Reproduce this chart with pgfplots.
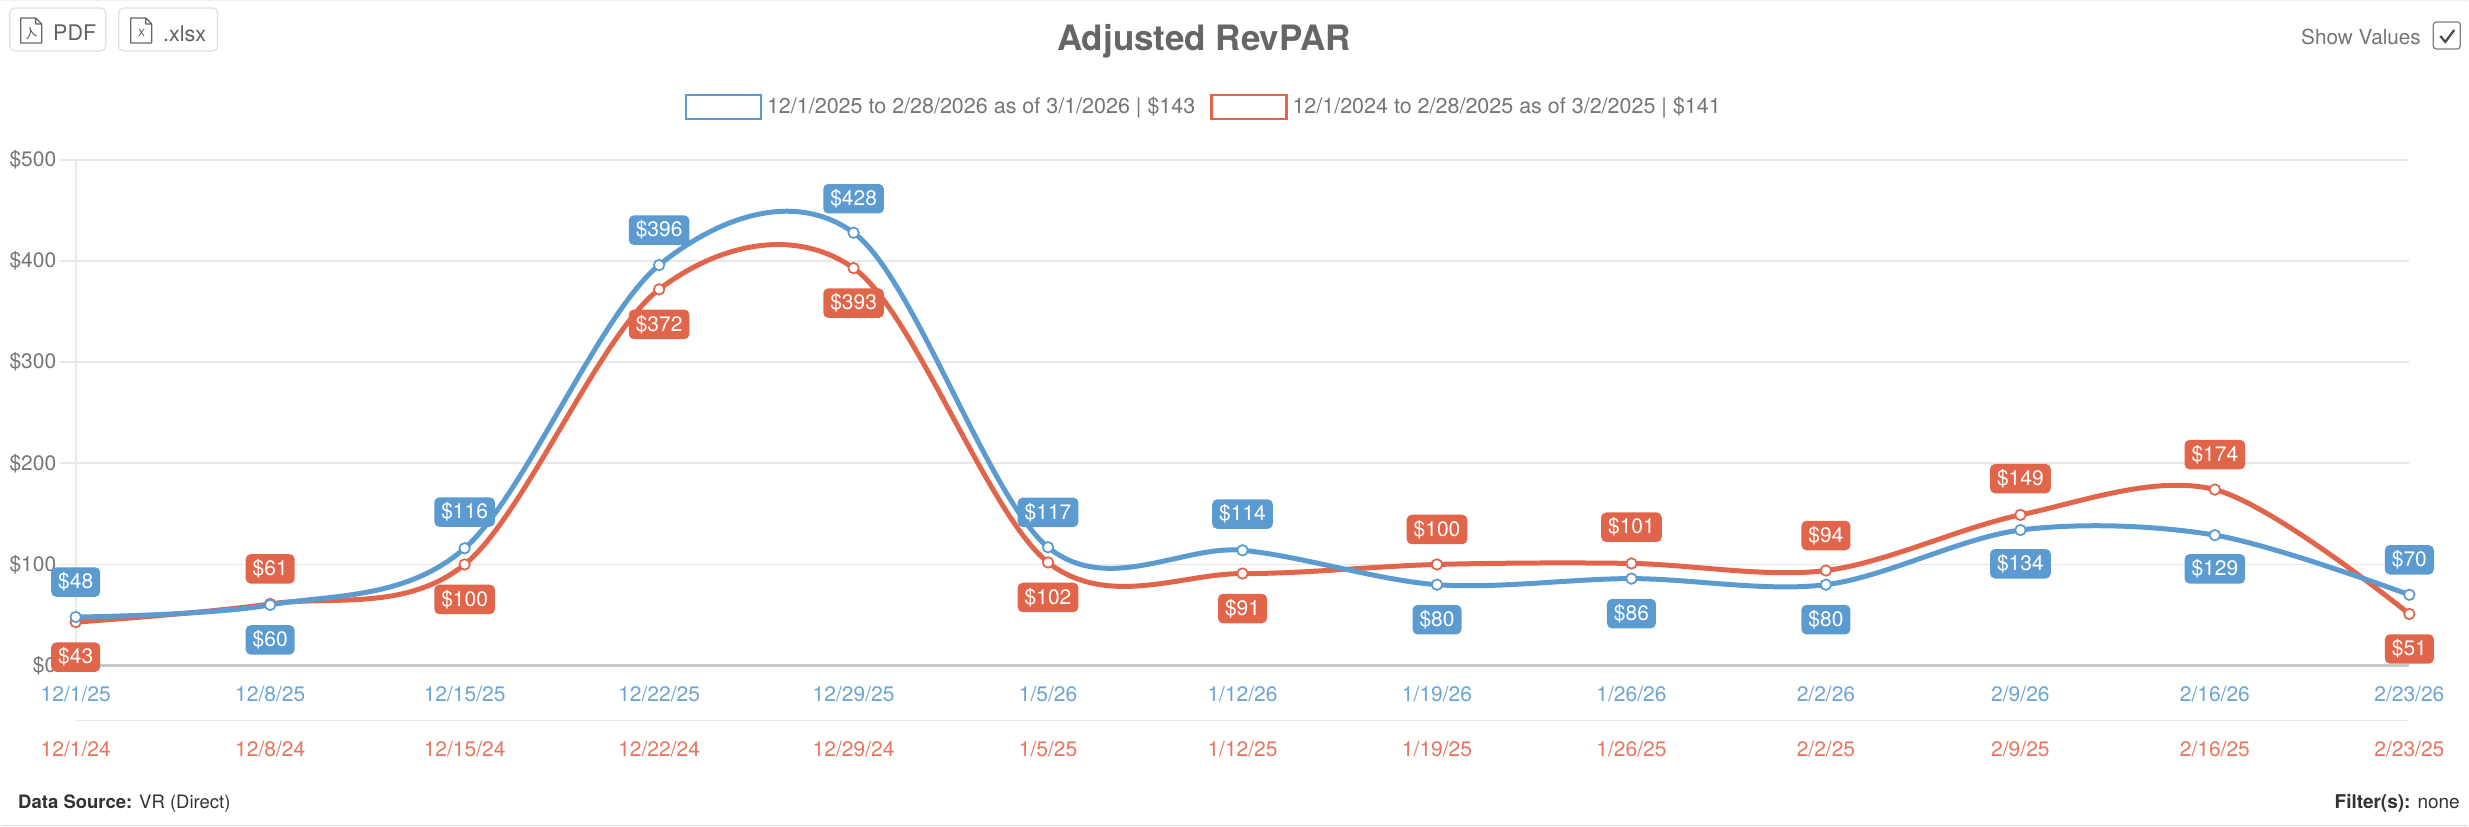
\documentclass[border=0pt]{standalone}
\usepackage{fontspec}
\setmainfont{TeX Gyre Heros}
\usepackage{pgfplots}
\usepackage{pgfplotstable}
\pgfplotsset{compat=1.18}
\definecolor{bl}{HTML}{5B9BD0}
\definecolor{og}{HTML}{E1654A}
\definecolor{blt}{HTML}{6AA5D6}
\definecolor{ogt}{HTML}{E8755C}
\definecolor{gridc}{HTML}{E8E8E8}
\definecolor{txt}{HTML}{757575}
\pgfplotstableread{
x y off
0 48 14
1 60 -14
2 116 14.5
3 396 14
4 428 13.6
5 117 14
6 114 14.5
7 80 -14
8 86 -14
9 80 -14
10 134 -13.5
11 129 -13.5
12 70 14
}\blue
\pgfplotstableread{
x y off
0 43 -14
1 61 14
2 100 -14
3 372 -14
4 393 -14
5 102 -14
6 91 -14
7 100 14
8 101 14.5
9 94 14
10 149 14.5
11 174 14
12 51 -14
}\orange
\newcommand{\tl}[2]{\textcolor{blt}{#1}\\\textcolor{ogt}{#2}}
\begin{document}
\begin{tikzpicture}
\path (0,0) rectangle (987.6pt,330.8pt);
\begin{axis}[
  set layers=standard,
  at={(30pt,64.4pt)}, anchor=south west,
  scale only axis, width=934pt, height=202.4pt,
  xmin=0, xmax=12, ymin=0, ymax=500,
  clip=false,
  axis x line=bottom, axis y line=left,
  x axis line style={-, draw=black!22, line width=1pt},
  y axis line style={-, draw=gridc, line width=0.7pt},
  ytick={0,100,200,300,400,500},
  yticklabels={\$0,\$100,\$200,\$300,\$400,\$500},
  xtick={0,...,12},
  xticklabels={
    {\tl{12/1/25}{12/1/24}},{\tl{12/8/25}{12/8/24}},{\tl{12/15/25}{12/15/24}},
    {\tl{12/22/25}{12/22/24}},{\tl{12/29/25}{12/29/24}},{\tl{1/5/26}{1/5/25}},
    {\tl{1/12/26}{1/12/25}},{\tl{1/19/26}{1/19/25}},{\tl{1/26/26}{1/26/25}},
    {\tl{2/2/26}{2/2/25}},{\tl{2/9/26}{2/9/25}},{\tl{2/16/26}{2/16/25}},{\tl{2/23/26}{2/23/25}}},
  tick align=outside,
  major tick length=6.4pt,
  x tick style={draw=none},
  y tick style={draw=gridc, line width=0.7pt},
  ymajorgrids,
  major grid style={draw=gridc, line width=0.7pt},
  yticklabel style={font=\fontsize{8.4}{10}\selectfont, text=txt, inner sep=0pt, xshift=-1.2pt},
  xticklabel style={font=\fontsize{8.4}{22}\selectfont, align=center, inner sep=0pt, yshift=-1.6pt},
  legend columns=2,
  legend cell align=left,
  legend style={at={(0.2608,1.136)}, anchor=north west, draw=none, fill=none, inner sep=0pt,
    font=\fontsize{8.6}{10}\selectfont, text=txt,
    /tikz/every even column/.append style={column sep=4pt}},
  lab/.style={
    point meta=explicit symbolic,
    nodes near coords={\$\pgfplotspointmeta},
    visualization depends on={\thisrow{off}\as\off},
    nodes near coords style={anchor=center, yshift=\off pt, fill=#1, text=white,
      font=\fontsize{8.4}{10}\selectfont, rounded corners=2pt, inner xsep=2.8pt, inner ysep=0pt,
      minimum height=11.8pt},
  },
]
\addlegendimage{legend image code/.code={\draw[bl, line width=0.9pt, fill=white] (0pt,-4.8pt) rectangle (30pt,4.8pt);}}
\addlegendentry{12/1/2025 to 2/28/2026 as of 3/1/2026 | \$143}
\addlegendimage{legend image code/.code={\draw[og, line width=0.9pt, fill=white] (0pt,-4.8pt) rectangle (30pt,4.8pt);}}
\addlegendentry{12/1/2024 to 2/28/2025 as of 3/2/2025 | \$141}
\addplot[forget plot, og, line width=2pt, smooth, tension=0.55, mark=*, mark size=2.1pt,
  mark options={fill=white, draw=og, line width=0.7pt}] table[x=x,y=y] {\orange};
\addplot[forget plot, bl, line width=2pt, smooth, tension=0.55, mark=*, mark size=2.1pt,
  mark options={fill=white, draw=bl, line width=0.7pt}] table[x=x,y=y] {\blue};
\addplot[forget plot, draw=none, mark=none, lab=og] table[x=x,y=y,meta=y] {\orange};
\addplot[forget plot, draw=none, mark=none, lab=bl] table[x=x,y=y,meta=y] {\blue};
\end{axis}
\begin{scope}[shift={(0pt,330.8pt)}, x=0.4pt, y=-0.4pt]
  % separators
  \draw[gridc, line width=0.7pt] (75,721) -- (2410,721);
  \draw[black!15, line width=0.6pt] (0,826) -- (2469,826);
  \draw[black!6, line width=0.4pt] (0,0.5) -- (2469,0.5);
  % title
  \node[font=\fontsize{14}{16}\selectfont\bfseries, text=black!60] at (1204,41) {Adjusted RevPAR};
  % buttons
  \draw[black!12, line width=0.5pt, rounded corners=2pt] (9,8) rectangle (105,51);
  \draw[black!12, line width=0.5pt, rounded corners=2pt] (118,8) rectangle (217,51);
  \draw[black!60, line width=0.5pt, line join=round] (20,18) -- (35,18) -- (41,24) -- (41,43) -- (20,43) -- cycle (35,18) -- (35,24) -- (41,24);
  \draw[black!60, line width=0.4pt] (26,39) .. controls (31,34) and (30,30) .. (29,27) .. controls (30,32) and (33,35) .. (36,36);
  \draw[black!60, line width=0.5pt, line join=round] (130,18) -- (145,18) -- (151,24) -- (151,43) -- (130,43) -- cycle (145,18) -- (145,24) -- (151,24);
  \node[font=\fontsize{5.5}{6}\selectfont, text=black!60, inner sep=0pt] at (141,33) {x};
  \node[font=\fontsize{8.6}{10}\selectfont, text=black!62, anchor=west, inner sep=0pt] at (52,33) {PDF};
  \node[font=\fontsize{8.6}{10}\selectfont, text=black!62, anchor=west, inner sep=0pt] at (162,34) {.xlsx};
  % show values
  \node[font=\fontsize{8.3}{10}\selectfont, text=txt, anchor=east, inner sep=0pt] at (2422,37) {Show Values};
  \draw[black!50, line width=0.5pt, rounded corners=1.2pt] (2434,22) rectangle (2461,49);
  \draw[black!70, line width=0.9pt] (2441,36) -- (2446,42) -- (2455,30);
  % footer
  \node[font=\fontsize{7.4}{10}\selectfont, text=black!80, anchor=west, inner sep=0pt] at (17,804) {\textbf{Data Source:} VR (Direct)};
  \node[font=\fontsize{7.6}{10}\selectfont, text=black!80, anchor=east, inner sep=0pt] at (2461,804) {\textbf{Filter(s):} none};
\end{scope}
\end{tikzpicture}
\end{document}
